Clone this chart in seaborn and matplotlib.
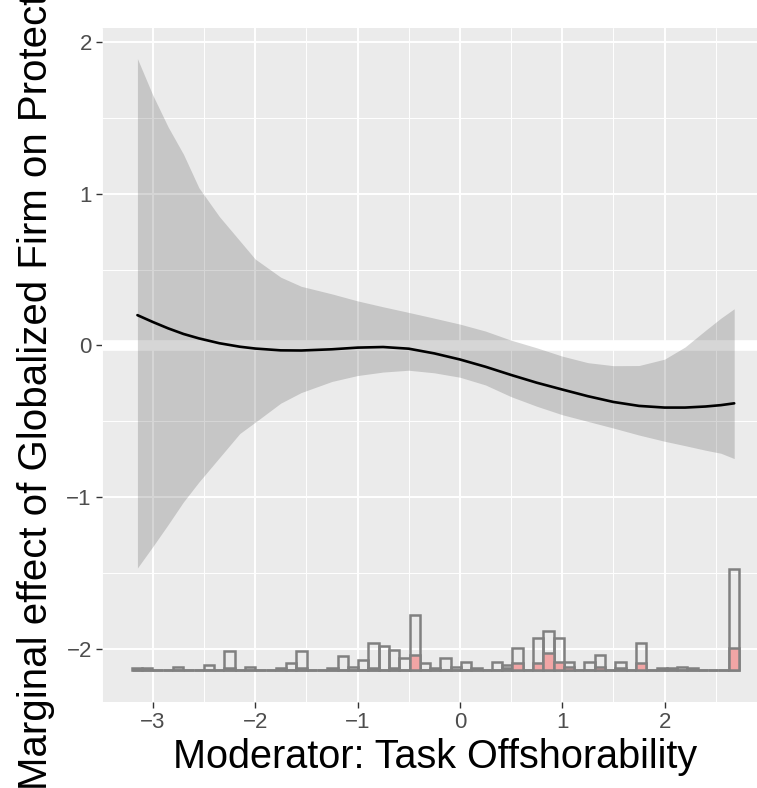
import numpy as np
import pandas as pd
import matplotlib
matplotlib.use("Agg")
import matplotlib.pyplot as plt
import seaborn as sns

# Marginal effect estimates along the moderator
mod_x = [-3.15, -3.0, -2.85, -2.7, -2.55, -2.35, -2.15, -2.0, -1.75, -1.55,
         -1.25, -1.0, -0.75, -0.5, -0.25, 0.0, 0.25, 0.5, 0.75, 1.0,
         1.25, 1.5, 1.75, 2.0, 2.2, 2.4, 2.55, 2.68]
effect = [0.20, 0.155, 0.113, 0.076, 0.047, 0.015, -0.008, -0.02, -0.032, -0.033,
          -0.025, -0.014, -0.01, -0.021, -0.052, -0.092, -0.14, -0.194, -0.245, -0.29,
          -0.334, -0.372, -0.398, -0.409, -0.409, -0.402, -0.393, -0.381]
ci_upper = [1.89, 1.65, 1.44, 1.26, 1.04, 0.85, 0.69, 0.57, 0.45, 0.39,
            0.34, 0.294, 0.255, 0.218, 0.18, 0.141, 0.095, 0.035, -0.015, -0.07,
            -0.113, -0.133, -0.132, -0.09, -0.01, 0.10, 0.18, 0.242]
ci_lower = [-1.466, -1.325, -1.18, -1.03, -0.90, -0.74, -0.58, -0.506, -0.38, -0.31,
            -0.237, -0.198, -0.175, -0.163, -0.18, -0.209, -0.26, -0.337, -0.40, -0.456,
            -0.50, -0.544, -0.59, -0.631, -0.66, -0.69, -0.71, -0.745]

# Distribution of the moderator: all observations and treated (globalized) firms
hist_lo, hist_hi, n_bins = -3.155, 2.675, 59
count_all = [1, 1, 0, 0, 2, 0, 0, 3, 0, 11,
             0, 2, 0, 0, 1, 4, 11, 0, 0, 1,
             8, 2, 6, 16, 14, 12, 7, 32, 4, 1,
             7, 2, 5, 1, 0, 5, 3, 13, 0, 19,
             23, 19, 5, 0, 5, 9, 0, 5, 0, 16,
             0, 1, 1, 2, 1, 0, 0, 0, 59]
count_treated = [0, 0, 0, 0, 0, 0, 0, 0, 0, 1,
                 0, 0, 0, 0, 0, 0, 1, 0, 0, 0,
                 0, 0, 0, 1, 0, 1, 0, 9, 0, 0,
                 0, 0, 0, 0, 0, 0, 1, 4, 0, 4,
                 10, 5, 2, 0, 0, 2, 0, 1, 0, 4,
                 0, 0, 0, 0, 0, 0, 0, 0, 13]

x_ticks = [-3, -2, -1, 0, 1, 2]
y_ticks = [-2, -1, 0, 1, 2]
x_title = "Moderator: Task Offshorability"
y_title = "Marginal effect of Globalized Firm on Protection"

sns.set_theme(style="darkgrid")
plt.rcParams["font.family"] = ["Liberation Sans", "DejaVu Sans"]

fig = plt.figure(figsize=(7.57, 7.88), dpi=100)
W, H = 757, 788
ax = fig.add_axes([101.6 / W, (H - 702) / H, (769 - 101.6) / W, (702 - 28) / H])
ax.set_facecolor("#EBEBEB")
for s in ax.spines.values():
    s.set_visible(False)

ax.set_xlim(-3.50, 3.02)
ax.set_ylim(-2.349, 2.092)
ax.set_xticks(x_ticks)
ax.set_yticks(y_ticks)
ax.set_xticks(np.arange(-3.5, 3.01, 0.5), minor=True)
ax.set_yticks(np.arange(-2.0, 2.01, 0.5), minor=True)
ax.grid(which="major", color="white", linewidth=1.4)
ax.grid(which="minor", color="white", linewidth=0.7)
ax.set_axisbelow(True)

ax.tick_params(which="major", length=4, width=1.0, color="#333333",
               labelcolor="#4D4D4D", labelsize=16, pad=3,
               bottom=True, left=True)
ax.tick_params(which="minor", length=0)

# emphasised zero line
ax.axhline(0, color="white", linewidth=7.7, zorder=0.8)

# histogram along the bottom of the panel
hist_base = -2.139
bin_w = (hist_hi - hist_lo) / (n_bins - 1)
centers = hist_lo + bin_w * np.arange(n_bins)
all_arr = np.array(count_all, dtype=float)
tr_arr = np.array(count_treated, dtype=float)
scale = 0.664 / all_arr.max()
ax.bar(centers, all_arr * scale, width=bin_w, bottom=hist_base,
       facecolor="none", edgecolor="#808080", linewidth=1.8, zorder=2)
ax.bar(centers, tr_arr * scale, width=bin_w, bottom=hist_base,
       facecolor="#F1A5A5", edgecolor="#808080", linewidth=1.8, zorder=2.1)

# confidence band and point estimate
df = pd.DataFrame({"x": mod_x, "effect": effect, "lo": ci_lower, "hi": ci_upper})
ax.fill_between(df["x"], df["lo"], df["hi"], color="#333333", alpha=0.2,
                linewidth=0, zorder=3)
sns.lineplot(data=df, x="x", y="effect", color="black", linewidth=1.9,
             ax=ax, zorder=4)

ax.set_xlabel(x_title, fontsize=28.5, color="black", labelpad=4)
ax.set_ylabel(y_title, fontsize=29, color="black", labelpad=8)

fig.savefig("out.png", dpi=100)
